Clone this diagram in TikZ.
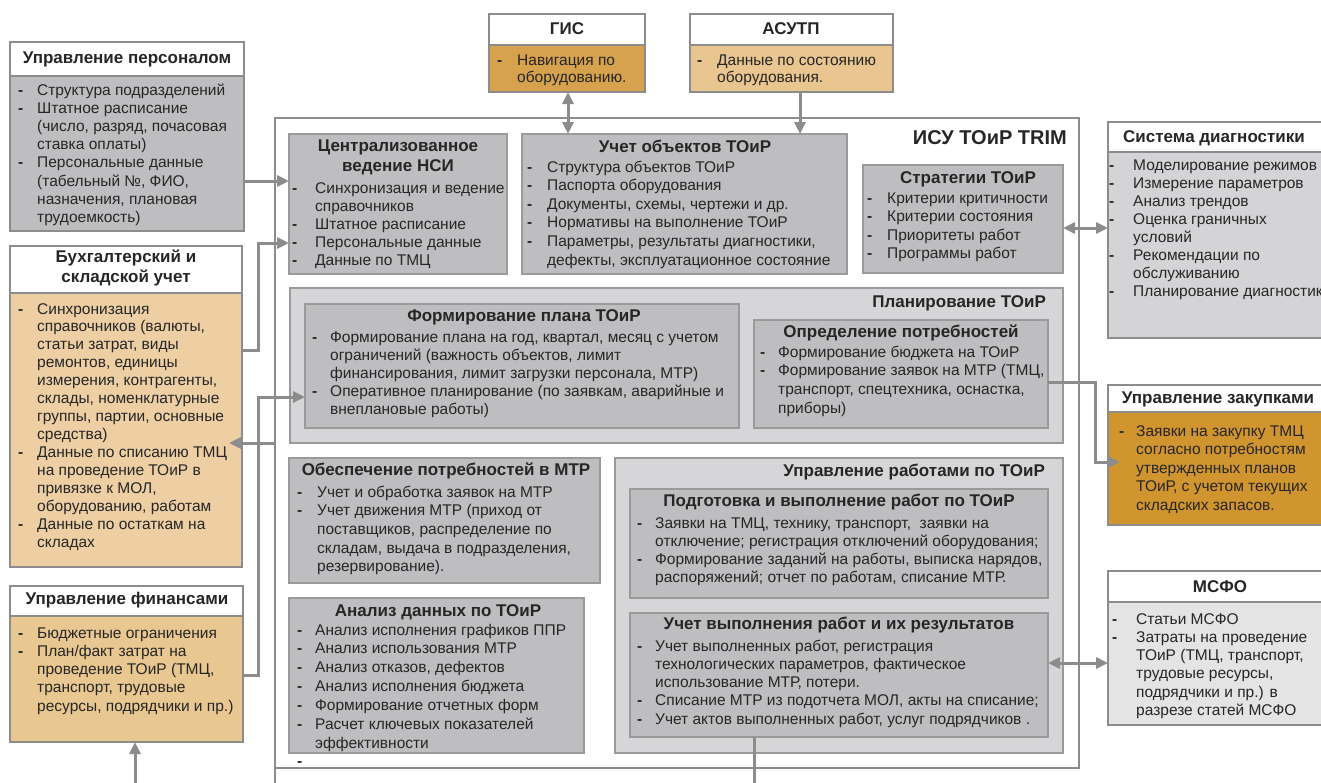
\documentclass[tikz,border=0pt]{standalone}
\usepackage{fontspec}
\setmainfont{Liberation Sans}
\usetikzlibrary{arrows.meta}
\definecolor{bord}{HTML}{8C8C8C}
\definecolor{ibord}{HTML}{9A9A9A}
\definecolor{lc}{HTML}{8C8C8C}
\definecolor{gbox}{HTML}{BEBEC0}
\definecolor{grp}{HTML}{D6D6D8}
\definecolor{diagc}{HTML}{D4D4D6}
\definecolor{msfoc}{HTML}{E4E4E4}
\definecolor{peach}{HTML}{EECFA4}
\definecolor{peachb}{HTML}{E9C791}
\definecolor{asutpc}{HTML}{E9C58F}
\definecolor{gisc}{HTML}{D6A24E}
\definecolor{zakc}{HTML}{D19530}
\definecolor{txt}{HTML}{262626}
\newcommand{\lst}[2]{\begin{tabular}[t]{@{}p{#1pt}@{}l@{}}#2\end{tabular}}
\newcommand{\dsh}{\textbf{-}}
\newcommand{\bx}[7]{\node[#1, fill=#2, minimum width=#5pt-#3pt, minimum height=#6pt-#4pt] (#7) at (#3,#4) {};}
\tikzset{
 obox/.style={draw=bord, line width=2.6pt, anchor=north west, inner sep=0pt, outer sep=0pt},
 ibox/.style={draw=ibord, line width=1.8pt, anchor=north west, inner sep=0pt, outer sep=0pt},
 hdr/.style={font=\fontsize{17}{20}\selectfont\bfseries, text=txt, inner sep=0pt, align=center},
 big/.style={font=\fontsize{20}{24}\selectfont\bfseries, text=txt, inner sep=0pt, anchor=east},
 body/.style={font=\fontsize{15.5}{#1}\selectfont, text=txt, inner sep=0pt, anchor=base west},
 body/.default=18.3,
 arr/.style={draw=lc, line width=3pt, -{Triangle[length=12pt,width=11pt]}},
 darr/.style={draw=lc, line width=3pt, {Triangle[length=12pt,width=11pt]}-{Triangle[length=12pt,width=11pt]}},
 ln/.style={draw=lc, line width=3pt},
}
\begin{document}
\begin{tikzpicture}[x=1pt,y=-1pt]
\useasboundingbox (0,0) rectangle (1321,782);
\fill[white] (0,0) rectangle (1321,782);

% ---------- frame ----------
\node[obox, minimum width=804pt, minimum height=650pt] (isu) at (275,118) {};
\coordinate (isuExt) at (275,790);
\draw[draw=bord, line width=2.6pt] (isu.south west) -- (isuExt);
\node[big] (isuT) at (1067,138) {ИСУ ТОиР TRIM};

% ---------- external: Управление персоналом ----------
\bx{obox}{gbox}{10}{42}{244}{231}{pers}
\bx{obox}{white}{10}{42}{244}{76}{persH}
\node[hdr] (persT) at (127,59) {Управление персоналом};
\node[body=18.1] (persB) at (18,95.5) {\lst{19}{\dsh & Структура подразделений\\ \dsh & Штатное расписание\\ & (число, разряд, почасовая\\ & ставка оплаты)\\ \dsh & Персональные данные\\ & (табельный №, ФИО,\\ & назначения, плановая\\ & трудоемкость)}};

% ---------- Бухгалтерский ----------
\bx{obox}{peach}{10}{246}{242}{567}{buh}
\bx{obox}{white}{10}{246}{242}{293}{buhH}
\node[hdr] (buhT) at (126,268) {Бухгалтерский и\\складской учет};
\node[body=17.95] (buhB) at (18,314) {\lst{19}{\dsh & Синхронизация\\ & справочников (валюты,\\ & статьи затрат, виды\\ & ремонтов, единицы\\ & измерения, контрагенты,\\ & склады, номенклатурные\\ & группы, партии, основные\\ & средства)\\ \dsh & Данные по списанию ТМЦ\\ & на проведение ТОиР в\\ & привязке к МОЛ,\\ & оборудованию, работам\\ \dsh & Данные по остаткам на\\ & складах}};

% ---------- Управление финансами ----------
\bx{obox}{peachb}{10}{586}{243}{742}{fin}
\bx{obox}{white}{10}{586}{243}{616}{finH}
\node[hdr] (finT) at (127,600) {Управление финансами};
\node[body=18.25] (finB) at (18,638) {\lst{19}{\dsh & Бюджетные ограничения\\ \dsh & План/факт затрат на\\ & проведение ТОиР (ТМЦ,\\ & транспорт, трудовые\\ & ресурсы, подрядчики и пр.)}};

% ---------- ГИС / АСУТП ----------
\bx{obox}{gisc}{489}{14}{645}{92}{gis}
\bx{obox}{white}{489}{14}{645}{45}{gisH}
\node[hdr] (gisT) at (567,29) {ГИС};
\node[body=17.7] (gisB) at (497,65) {\lst{20}{\dsh & Навигация по\\ & оборудованию.}};
\bx{obox}{asutpc}{690}{14}{893}{92}{asutp}
\bx{obox}{white}{690}{14}{893}{45}{asutpH}
\node[hdr] (asutpT) at (791,29) {АСУТП};
\node[body=17.7] (asutpB) at (697,65) {\lst{20}{\dsh & Данные по состоянию\\ & оборудования.}};

% ---------- НСИ ----------
\bx{ibox}{gbox}{289}{134}{507}{274}{nsi}
\node[hdr] (nsiT) at (398,157) {Централизованное\\ведение НСИ};
\node[body=18.2] (nsiB) at (292,193) {\lst{23}{\dsh & Синхронизация и ведение\\ & справочников\\ \dsh & Штатное расписание\\ \dsh & Персональные данные\\ \dsh & Данные по ТМЦ}};

% ---------- Учет объектов ----------
\bx{ibox}{gbox}{522}{134}{847}{274}{uo}
\node[hdr] (uoT) at (685,146) {Учет объектов ТОиР};
\node[body=18.6] (uoB) at (527,172) {\lst{20}{\dsh & Структура объектов ТОиР\\ \dsh & Паспорта оборудования\\ \dsh & Документы, схемы, чертежи и др.\\ \dsh & Нормативы на выполнение ТОиР\\ \dsh & Параметры, результаты диагностики,\\ & дефекты, эксплуатационное состояние}};

% ---------- Стратегии ----------
\bx{ibox}{gbox}{863}{165}{1063}{273}{strat}
\node[hdr] (stratT) at (968,179) {Стратегии ТОиР};
\node[body=18.6] (stratB) at (867,203) {\lst{20}{\dsh & Критерии критичности\\ \dsh & Критерии состояния\\ \dsh & Приоритеты работ\\ \dsh & Программы работ}};

% ---------- Планирование ТОиР ----------
\bx{ibox}{grp}{290}{288}{1063}{443}{plan}
\node[hdr, anchor=east] (planT) at (1046,303) {Планирование ТОиР};
\bx{ibox}{gbox}{305}{304}{739}{428}{form}
\node[hdr] (formT) at (524,317) {Формирование плана ТОиР};
\node[body=18] (formB) at (312,342) {\lst{18}{\dsh & Формирование плана на год, квартал, месяц с учетом\\ & ограничений (важность объектов, лимит\\ & финансирования, лимит загрузки персонала, МТР)\\ \dsh & Оперативное планирование (по заявкам, аварийные и\\ & внеплановые работы)}};
\bx{ibox}{gbox}{754}{320}{1048}{428}{opr}
\node[hdr] (oprT) at (901,333) {Определение потребностей};
\node[body=18.7] (oprB) at (760,357) {\lst{18}{\dsh & Формирование бюджета на ТОиР\\ \dsh & Формирование заявок на МТР (ТМЦ,\\ & транспорт, спецтехника, оснастка,\\ & приборы)}};

% ---------- Обеспечение ----------
\bx{ibox}{gbox}{289}{458}{600}{583}{obesp}
\node[hdr] (obespT) at (446,471) {Обеспечение потребностей в МТР};
\node[body=18.7] (obespB) at (297,497) {\lst{20}{\dsh & Учет и обработка заявок на МТР\\ \dsh & Учет движения МТР (приход от\\ & поставщиков, распределение по\\ & складам, выдача в подразделения,\\ & резервирование).}};

% ---------- Анализ ----------
\bx{ibox}{gbox}{289}{598}{584}{753}{anal}
\node[hdr] (analT) at (438,612) {Анализ данных по ТОиР};
\node[body=18.9] (analB) at (297,635) {\lst{18}{\dsh & Анализ исполнения графиков ППР\\ \dsh & Анализ использования МТР\\ \dsh & Анализ отказов, дефектов\\ \dsh & Анализ исполнения бюджета\\ \dsh & Формирование отчетных форм\\ \dsh & Расчет ключевых показателей\\ & эффективности}};
\node[body] (ldash) at (297,766) {\dsh};

% ---------- Управление работами ----------
\bx{ibox}{grp}{615}{458}{1063}{753}{upr}
\node[hdr, anchor=east] (uprT) at (1045,472) {Управление работами по ТОиР};
\bx{ibox}{gbox}{630}{489}{1048}{598}{podg}
\node[hdr] (podgT) at (839,502) {Подготовка и выполнение работ по ТОиР};
\node[body=18.2] (podgB) at (637,528) {\lst{18}{\dsh & Заявки на ТМЦ, технику, транспорт,\ \ заявки на\\ & отключение; регистрация отключений оборудования;\\ \dsh & Формирование заданий на работы, выписка нарядов,\\ & распоряжений; отчет по работам, списание МТР.}};
\bx{ibox}{gbox}{630}{613}{1048}{737}{uv}
\node[hdr] (uvT) at (839,625) {Учет выполнения работ и их результатов};
\node[body=18.3] (uvB) at (637,651) {\lst{18}{\dsh & Учет выполненных работ, регистрация\\ & технологических параметров, фактическое\\ & использование МТР, потери.\\ \dsh & Списание МТР из подотчета МОЛ, акты на списание;\\ \dsh & Учет актов выполненных работ, услуг подрядчиков .}};

% ---------- Система диагностики ----------
\bx{obox}{diagc}{1108}{122}{1330}{338}{diag}
\bx{obox}{white}{1108}{122}{1330}{152}{diagH}
\node[hdr] (diagT) at (1214,138) {Система диагностики};
\node[body=18.1] (diagB) at (1109,170) {\lst{24}{\dsh & Моделирование режимов\\ \dsh & Измерение параметров\\ \dsh & Анализ трендов\\ \dsh & Оценка граничных\\ & условий\\ \dsh & Рекомендации по\\ & обслуживанию\\ \dsh & Планирование диагностики}};

% ---------- Управление закупками ----------
\bx{obox}{zakc}{1108}{385}{1330}{525}{zak}
\bx{obox}{white}{1108}{385}{1330}{412}{zakH}
\node[hdr] (zakT) at (1218,399) {Управление закупками};
\node[body=18.5] (zakB) at (1119,436) {\lst{17}{\dsh & Заявки на закупку ТМЦ\\ & согласно потребностям\\ & утвержденных планов\\ & ТОиР, с учетом текущих\\ & складских запасов.}};

% ---------- МСФО ----------
\bx{obox}{msfoc}{1108}{571}{1330}{725}{msfo}
\bx{obox}{white}{1108}{571}{1330}{602}{msfoH}
\node[hdr] (msfoT) at (1220,587) {МСФО};
\node[body=18.3] (msfoB) at (1112,624) {\lst{24}{\dsh & Статьи МСФО\\ \dsh & Затраты на проведение\\ & ТОиР (ТМЦ, транспорт,\\ & трудовые ресурсы,\\ & подрядчики и пр.) в\\ & разрезе статей МСФО}};

% ---------- connectors ----------
\coordinate (busX) at (258,0);
\coordinate (zakX) at (1095,0);
\coordinate (finIn) at (135,790);
\coordinate (uvOut) at (754,790);
\draw[arr] (pers.east |- 0,181) -- (nsi.west |- 0,181);
\draw[arr] (buh.east |- 0,350) -| (busX |- 0,243) -- (nsi.west |- 0,243);
\draw[arr] (fin.east |- 0,675) -| (busX |- 0,397) -- (form.west |- 0,397);
\draw[arr, shorten >=-13pt] (isu.west |- 0,443) -- (buh.east |- 0,443);
\draw[darr] (gis.south -| 568,0) -- (uo.north -| 568,0);
\draw[arr] (asutp.south -| 800,0) -- (uo.north -| 800,0);
\draw[darr] (strat.east |- 0,228) -- (diag.west |- 0,228);
\draw[arr, shorten >=-12pt] (opr.east |- 0,382) -| (zakX |- 0,462) -- (zak.west |- 0,462);
\draw[darr] (uv.east |- 0,663) -- (msfo.west |- 0,663);
\draw[ln] (uv.south -| 754,0) -- (uvOut);
\draw[arr] (finIn) -- (fin.south -| 135,0);
\end{tikzpicture}
\end{document}
